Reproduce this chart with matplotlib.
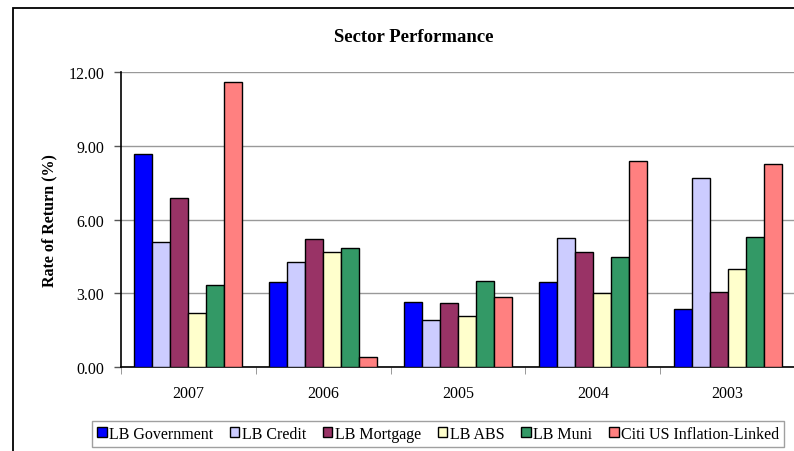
import matplotlib.pyplot as plt
import numpy as np
from matplotlib.patches import Rectangle

plt.rcParams['font.family'] = ['Liberation Serif', 'DejaVu Serif']

# Dữ liệu
years = ['2007', '2006', '2005', '2004', '2003']
lb_government = [8.67, 3.44, 2.63, 3.47, 2.35]
lb_credit = [5.09, 4.26, 1.93, 5.23, 7.68]
lb_mortgage = [6.88, 5.21, 2.60, 4.69, 3.04]
lb_abs = [2.18, 4.69, 2.07, 3.00, 4.00]
lb_muni = [3.35, 4.83, 3.51, 4.46, 5.30]
citi_tips = [11.61, 0.39, 2.85, 8.39, 8.24]

series = [
    ('LB Government', lb_government, '#0000FF'),
    ('LB Credit', lb_credit, '#CCCCFF'),
    ('LB Mortgage', lb_mortgage, '#993366'),
    ('LB ABS', lb_abs, '#FFFFCC'),
    ('LB Muni', lb_muni, '#339966'),
    ('Citi US Inflation-Linked', citi_tips, '#FF8080'),
]

fig = plt.figure(figsize=(7.94, 4.52), dpi=100)
ax = fig.add_axes([121 / 794, 1 - 368 / 452, 674 / 794, 295 / 452])

# khung ngoài của biểu đồ
fig.patches.append(Rectangle((13 / 794, -0.1), 1.2, 1 - 9 / 452 + 0.1,
                             transform=fig.transFigure, fill=False,
                             edgecolor='black', linewidth=1.3))

x = np.arange(len(years))
width = 1 / 7.5
for k, (name, vals, color) in enumerate(series):
    ax.bar(x + (k - 2.5) * width, vals, width, label=name, color=color,
           edgecolor='black', linewidth=1.0, zorder=3)

ax.set_xlim(-0.5, len(years) - 0.5)
ax.set_ylim(0, 12)
ax.set_yticks([0, 3, 6, 9, 12])
ax.set_yticklabels([f'{v:.2f}' for v in [0, 3, 6, 9, 12]], fontsize=11.5)
ax.yaxis.grid(True, color='#999999', linewidth=1.0, zorder=0)

ax.set_xticks(x)
ax.set_xticklabels(years, fontsize=11.5)
ax.tick_params(axis='x', length=0, pad=13)
ax.set_xticks(np.arange(-0.5, len(years) + 0.5), minor=True)
ax.tick_params(axis='x', which='minor', length=5, color='#888888')
ax.tick_params(axis='y', length=5, width=1, pad=7, color='#555555')

for s in ['top', 'right']:
    ax.spines[s].set_visible(False)
ax.spines['left'].set_linewidth(1.2)
ax.spines['bottom'].set_linewidth(1.2)

ax.set_ylabel('Rate of Return (%)', fontsize=11.5, fontweight='bold', labelpad=8)
fig.text(414 / 794, 1 - 38 / 452, 'Sector Performance', ha='center', va='center',
         fontsize=13.5, fontweight='bold')

leg = ax.legend(loc='center', bbox_to_anchor=(438 / 794, 1 - 435 / 452),
                bbox_transform=fig.transFigure, ncol=6, fontsize=11.5,
                frameon=True, fancybox=False, edgecolor='#888888',
                handlelength=0.6, handleheight=0.6, handletextpad=0.15,
                columnspacing=1.05, borderpad=0.3, borderaxespad=0)
leg.get_frame().set_linewidth(1.0)

plt.savefig('out.png', dpi=100)
